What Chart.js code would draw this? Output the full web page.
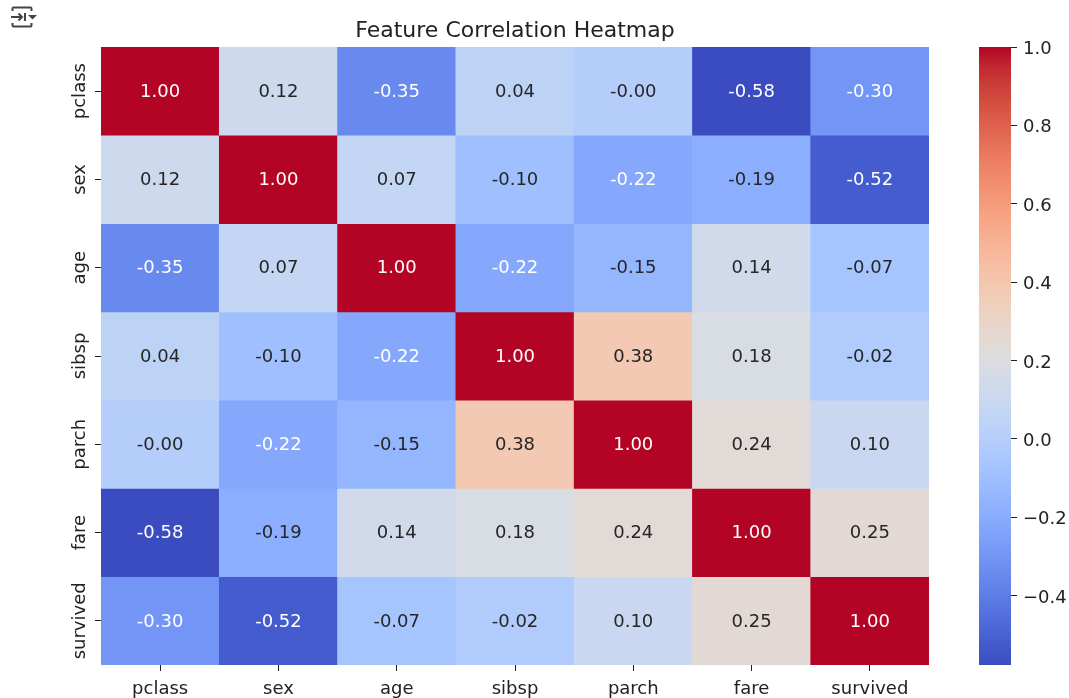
<!DOCTYPE html>
<html>
<head>
<meta charset="utf-8">
<title>Feature Correlation Heatmap</title>
<script src="https://cdn.jsdelivr.net/npm/chart.js@4.4.0/dist/chart.umd.min.js"></script>
<style>
    html, body { margin: 0; padding: 0; background: #fff; }
    #wrap { position: relative; width: 1069px; height: 698px; overflow: hidden; }
    #heat { position: absolute; left: 0; top: 0; }
    #cbar { position: absolute; left: 940px; top: 0; }
    #icon { position: absolute; left: 10px; top: 6px; }
</style>
</head>
<body>
<div id="wrap">
    <svg id="icon" width="30" height="26" viewBox="0 0 30 26">
        <path d="M2.5 5 V2.5 Q2.5 1.5 3.5 1.5 H20.5 Q21.5 1.5 21.5 2.5 V5" stroke="#444" stroke-width="2" fill="none"/>
        <path d="M1 11 H12 M8.5 7.5 L12 11 L8.5 14.5" stroke="#444" stroke-width="2" fill="none"/>
        <path d="M15 7 V15" stroke="#444" stroke-width="2" fill="none"/>
        <path d="M18 9 H27 L22.5 13.5 Z" fill="#444"/>
        <path d="M2.5 17 V19.5 Q2.5 20.5 3.5 20.5 H20.5 Q21.5 20.5 21.5 19.5 V17" stroke="#444" stroke-width="2" fill="none"/>
    </svg>
    <canvas id="heat" width="1069" height="698"></canvas>
    <canvas id="cbar" width="129" height="698"></canvas>
</div>
<script>
// data
const features = ['pclass', 'sex', 'age', 'sibsp', 'parch', 'fare', 'survived'];

const corrPclass   = [1.00, 0.12, -0.35, 0.04, -0.004, -0.577, -0.30];
const corrSex      = [0.12, 1.00, 0.07, -0.10, -0.22, -0.19, -0.52];
const corrAge      = [-0.35, 0.07, 1.00, -0.22, -0.15, 0.14, -0.07];
const corrSibsp    = [0.04, -0.10, -0.22, 1.00, 0.38, 0.18, -0.02];
const corrParch    = [-0.004, -0.22, -0.15, 0.38, 1.00, 0.24, 0.10];
const corrFare     = [-0.577, -0.19, 0.14, 0.18, 0.24, 1.00, 0.25];
const corrSurvived = [-0.30, -0.52, -0.07, -0.02, 0.10, 0.25, 1.00];

const rows = [corrPclass, corrSex, corrAge, corrSibsp, corrParch, corrFare, corrSurvived];

const cbarTicks = [1.0, 0.8, 0.6, 0.4, 0.2, 0.0, -0.2, -0.4];

const vmin = Math.min(...rows.flat());
const vmax = Math.max(...rows.flat());

// matplotlib coolwarm, 33 samples
const coolwarm = [
    [59,76,192],[68,90,204],[77,104,215],[87,117,225],[98,130,234],[108,142,241],
    [119,154,247],[130,165,251],[141,176,254],[152,185,255],[163,194,255],[174,201,253],
    [184,208,249],[194,213,244],[204,217,238],[213,219,230],[221,221,221],[229,216,209],
    [236,211,197],[241,204,184],[245,196,172],[247,187,159],[247,177,147],[247,166,134],
    [244,154,123],[241,141,111],[236,127,99],[229,112,89],[222,96,77],[213,80,66],
    [203,62,56],[192,40,47],[180,4,38]
];

function cmapRgb(v) {
    let t = (v - vmin) / (vmax - vmin);
    t = Math.max(0, Math.min(1, t)) * (coolwarm.length - 1);
    const i = Math.min(Math.floor(t), coolwarm.length - 2);
    const f = t - i;
    return coolwarm[i].map((c, k) => Math.round(c + (coolwarm[i + 1][k] - c) * f));
}

function cmap(v) {
    return 'rgb(' + cmapRgb(v).join(',') + ')';
}

// seaborn style text colour on cells
function textColor(v) {
    const lin = cmapRgb(v).map(c => {
        c = c / 255;
        return c <= 0.03928 ? c / 12.92 : Math.pow((c + 0.055) / 1.055, 2.4);
    });
    const lum = 0.2126 * lin[0] + 0.7152 * lin[1] + 0.0722 * lin[2];
    return lum > 0.408 ? '#262626' : '#ffffff';
}

const FONT = '"DejaVu Sans", "Liberation Sans", sans-serif';
const INK = '#222222';
const SIZE = 18;

Chart.defaults.font.family = FONT;
Chart.defaults.color = INK;

// annotations, title and rotated row labels
const heatText = {
    id: 'heatText',
    afterDatasetsDraw(chart) {
        const c = chart.ctx;
        c.save();
        c.font = SIZE + 'px ' + FONT;
        c.textAlign = 'center';
        c.textBaseline = 'middle';
        rows.forEach((row, r) => {
            chart.getDatasetMeta(r).data.forEach((bar, k) => {
                c.fillStyle = textColor(row[k]);
                c.fillText(row[k].toFixed(2), bar.x, (bar.y + bar.base) / 2 + 1);
            });
        });
        c.restore();
    },
    afterDraw(chart) {
        const c = chart.ctx;
        const area = chart.chartArea;
        const yScale = chart.scales.y;
        c.save();
        c.fillStyle = INK;
        c.font = '22px ' + FONT;
        c.textAlign = 'center';
        c.textBaseline = 'alphabetic';
        c.fillText('Feature Correlation Heatmap', (area.left + area.right) / 2, 37);

        c.font = SIZE + 'px ' + FONT;
        features.forEach((f, i) => {
            const y = yScale.getPixelForValue(i + 0.5);
            c.save();
            c.translate(area.left - 16, y);
            c.rotate(-Math.PI / 2);
            c.fillText(f, 0, 0);
            c.restore();
        });
        c.restore();
    }
};

// colour bar tick labels, matplotlib style baseline
const cbarText = {
    id: 'cbarText',
    afterDraw(chart) {
        const c = chart.ctx;
        const s = chart.scales.y;
        c.save();
        c.fillStyle = INK;
        c.font = SIZE + 'px ' + FONT;
        c.textAlign = 'left';
        c.textBaseline = 'alphabetic';
        cbarTicks.forEach(v => {
            const label = (v < -1e-9 ? '\u2212' : '') + Math.abs(v).toFixed(1);
            c.fillText(label, chart.chartArea.right + 12, s.getPixelForValue(v) + 7);
        });
        c.restore();
    }
};

let heat = new Chart(document.getElementById('heat'), {
    type: 'bar',
    data: {
        labels: features,
        datasets: rows.map((row, r) => ({
            label: features[r],
            data: features.map(() => 1),
            backgroundColor: row.map(v => cmap(v)),
            borderWidth: 0,
            barPercentage: 1,
            categoryPercentage: 1
        }))
    },
    options: {
        responsive: false,
        animation: false,
        layout: { padding: { left: 0, top: 47, right: 140, bottom: 0 } },
        plugins: {
            legend: { display: false },
            tooltip: { enabled: false },
            title: { display: false }
        },
        scales: {
            x: {
                type: 'category',
                stacked: true,
                offset: true,
                border: { display: false },
                grid: { drawOnChartArea: false, drawTicks: true, tickLength: 6, offset: false, color: INK },
                ticks: { font: { size: SIZE }, color: INK, padding: 8, maxRotation: 0 },
                afterFit: s => { s.height = 33; }
            },
            y: {
                type: 'linear',
                stacked: true,
                min: 0,
                max: features.length,
                reverse: true,
                border: { display: false },
                grid: { drawOnChartArea: false, drawTicks: true, tickLength: 6, color: INK },
                ticks: { display: false },
                afterBuildTicks: s => { s.ticks = features.map((f, i) => ({ value: i + 0.5 })); },
                afterFit: s => { s.width = 101; }
            }
        }
    },
    plugins: [heatText]
});

// colour bar
let cbar = new Chart(document.getElementById('cbar'), {
    type: 'bar',
    data: {
        labels: ['scale'],
        datasets: [{
            data: [[vmin, vmax]],
            backgroundColor: ctx => {
                const area = ctx.chart.chartArea;
                if (!area) return null;
                const g = ctx.chart.ctx.createLinearGradient(0, area.bottom, 0, area.top);
                coolwarm.forEach((col, i) => g.addColorStop(i / (coolwarm.length - 1), 'rgb(' + col.join(',') + ')'));
                return g;
            },
            borderWidth: 0,
            barPercentage: 1,
            categoryPercentage: 1
        }]
    },
    options: {
        responsive: false,
        animation: false,
        layout: { padding: { left: 39, top: 47, right: 0, bottom: 33 } },
        plugins: {
            legend: { display: false },
            tooltip: { enabled: false }
        },
        scales: {
            x: { display: false },
            y: {
                position: 'right',
                min: vmin,
                max: vmax,
                border: { display: false },
                grid: { drawOnChartArea: false, drawTicks: true, tickLength: 6, color: INK },
                ticks: { display: false },
                afterBuildTicks: s => { s.ticks = cbarTicks.map(v => ({ value: v })); },
                afterFit: s => { s.width = 58; }
            }
        }
    },
    plugins: [cbarText]
});
</script>
</body>
</html>
